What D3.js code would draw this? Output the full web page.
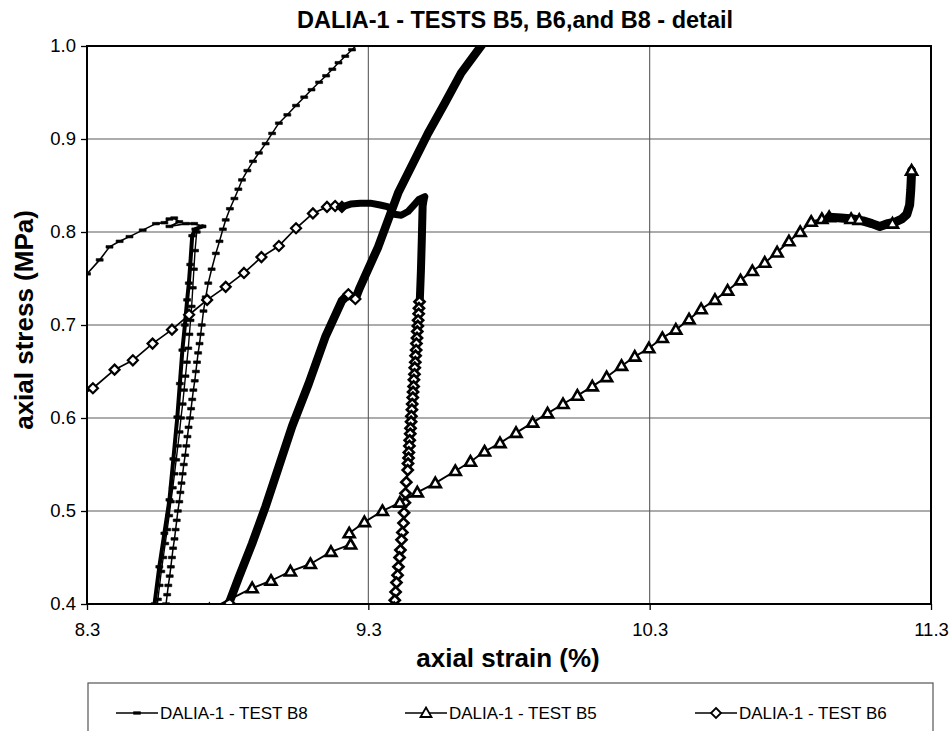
<!DOCTYPE html>
<html><head><meta charset="utf-8">
<script src="https://cdn.jsdelivr.net/npm/d3@7"></script>
<style>
body{margin:0;background:#fff}
svg{display:block}
text{font-family:"Liberation Sans",Arial,Helvetica,sans-serif;fill:#000}
</style></head>
<body><svg id="chart" width="950" height="731"></svg>
<script>
// ---------------- DATA ----------------
const chartTitle = "DALIA-1 - TESTS B5, B6,and B8 - detail";
const xTitle = "axial strain (%)";
const yTitle = "axial stress (MPa)";
const xTicks = [8.3, 9.3, 10.3, 11.3];
const yTicks = [0.4, 0.5, 0.6, 0.7, 0.8, 0.9, 1.0];
const seriesNames = ["DALIA-1 - TEST B8", "DALIA-1 - TEST B5", "DALIA-1 - TEST B6"];

// TEST B8 [strain %, stress MPa]
const b8Loading = [[8.300,0.755],[8.345,0.770],[8.380,0.784],[8.416,0.790],[8.451,0.795],[8.498,0.802],[8.545,0.809],[8.575,0.810],[8.593,0.814],[8.610,0.815],[8.628,0.811],[8.593,0.806],[8.652,0.809],[8.681,0.809],[8.710,0.806]];
const b8Unloading = [[8.710,0.806],[8.685,0.803],[8.674,0.796],[8.667,0.765],[8.662,0.745],[8.656,0.727],[8.648,0.700],[8.639,0.673],[8.630,0.637],[8.621,0.601],[8.607,0.556],[8.593,0.512],[8.575,0.476],[8.557,0.440],[8.540,0.400],[8.536,0.392]];
const b8Cycle = [[8.548,0.395],[8.552,0.405],[8.558,0.420],[8.564,0.435],[8.571,0.450],[8.578,0.465],[8.585,0.480],[8.592,0.495],[8.598,0.510],[8.605,0.525],[8.611,0.540],[8.617,0.555],[8.623,0.570],[8.629,0.585],[8.634,0.600],[8.640,0.615],[8.645,0.630],[8.650,0.645],[8.655,0.660],[8.660,0.675],[8.664,0.690],[8.668,0.705],[8.672,0.720],[8.676,0.740],[8.680,0.760],[8.684,0.780],[8.690,0.800]];
const b8Reloading = [[8.579,0.395],[8.581,0.400],[8.585,0.410],[8.589,0.420],[8.594,0.430],[8.598,0.440],[8.602,0.450],[8.606,0.460],[8.611,0.470],[8.615,0.480],[8.619,0.490],[8.623,0.500],[8.628,0.510],[8.632,0.520],[8.636,0.530],[8.640,0.540],[8.644,0.550],[8.649,0.560],[8.653,0.570],[8.657,0.580],[8.661,0.590],[8.666,0.600],[8.670,0.610],[8.674,0.620],[8.678,0.630],[8.683,0.640],[8.687,0.650],[8.691,0.660],[8.695,0.670],[8.700,0.680],[8.704,0.690],[8.708,0.700],[8.714,0.715],[8.722,0.730],[8.731,0.745],[8.743,0.760],[8.758,0.777],[8.771,0.790],[8.783,0.803],[8.793,0.813],[8.808,0.825],[8.824,0.836],[8.838,0.846],[8.851,0.856],[8.870,0.866],[8.890,0.876],[8.911,0.885],[8.935,0.895],[8.958,0.906],[8.982,0.917],[9.012,0.926],[9.043,0.936],[9.072,0.945],[9.098,0.953],[9.125,0.961],[9.150,0.968],[9.172,0.975],[9.194,0.982],[9.218,0.989],[9.242,0.996],[9.265,1.003]];

// TEST B5
const b5Curve = [[8.735,0.394],[8.887,0.417],[8.954,0.425],[9.023,0.435],[9.094,0.443],[9.167,0.456],[9.237,0.464],[9.232,0.476],[9.286,0.488],[9.350,0.500],[9.412,0.509],[9.474,0.520],[9.538,0.530],[9.609,0.543],[9.663,0.553],[9.713,0.564],[9.768,0.573],[9.825,0.584],[9.884,0.595],[9.937,0.605],[9.992,0.615],[10.043,0.624],[10.096,0.634],[10.147,0.644],[10.200,0.656],[10.247,0.666],[10.297,0.675],[10.345,0.686],[10.393,0.695],[10.440,0.706],[10.483,0.717],[10.532,0.727],[10.577,0.737],[10.623,0.748],[10.665,0.758],[10.709,0.767],[10.753,0.778],[10.795,0.790],[10.835,0.800],[10.874,0.811],[10.912,0.814],[10.938,0.816]];
const b5Plateau = [[10.938,0.816],[10.980,0.815],[11.023,0.814],[11.058,0.812],[11.090,0.809],[11.118,0.806],[11.147,0.809],[11.175,0.811],[11.196,0.814],[11.214,0.819],[11.224,0.829],[11.228,0.845],[11.230,0.858],[11.231,0.866]];
const b5PlateauMarks = [[11.016,0.814],[11.045,0.813],[11.163,0.809],[11.231,0.866]];

// TEST B6
const b6Loading = [[8.287,0.626],[8.321,0.632],[8.398,0.652],[8.463,0.662],[8.533,0.680],[8.602,0.695],[8.663,0.711],[8.727,0.727],[8.793,0.741],[8.858,0.756],[8.920,0.773],[8.982,0.785],[9.043,0.804],[9.103,0.820],[9.153,0.827],[9.182,0.828],[9.206,0.827]];
const b6Plateau = [[9.206,0.827],[9.237,0.830],[9.272,0.831],[9.307,0.831],[9.342,0.829],[9.371,0.827],[9.392,0.819],[9.417,0.818],[9.441,0.822],[9.462,0.829],[9.480,0.835],[9.501,0.838],[9.496,0.834]];
const b6UnloadingTop = [[9.496,0.834],[9.493,0.828],[9.490,0.791],[9.487,0.759],[9.483,0.727]];
const b6Unloading = [[9.482,0.725],[9.480,0.718],[9.479,0.712],[9.477,0.705],[9.476,0.699],[9.474,0.693],[9.473,0.686],[9.471,0.680],[9.470,0.673],[9.468,0.667],[9.467,0.660],[9.465,0.654],[9.464,0.647],[9.462,0.641],[9.461,0.634],[9.459,0.628],[9.458,0.622],[9.456,0.615],[9.455,0.609],[9.453,0.602],[9.452,0.596],[9.450,0.589],[9.449,0.583],[9.447,0.576],[9.446,0.570],[9.444,0.563],[9.443,0.557],[9.441,0.551],[9.440,0.544],[9.435,0.531],[9.432,0.519],[9.430,0.509],[9.427,0.498],[9.425,0.487],[9.421,0.477],[9.418,0.469],[9.414,0.458],[9.411,0.450],[9.407,0.440],[9.404,0.431],[9.400,0.423],[9.397,0.413],[9.394,0.404],[9.392,0.396]];
const b6Reloading = [[8.805,0.401],[8.840,0.429],[8.887,0.465],[8.935,0.505],[8.982,0.548],[9.029,0.591],[9.088,0.637],[9.147,0.687],[9.206,0.726],[9.229,0.733],[9.254,0.728],[9.268,0.739],[9.335,0.784],[9.406,0.842],[9.512,0.906],[9.571,0.938],[9.630,0.971],[9.713,1.005]];
const b6ReloadingMarks = [[8.805,0.401],[9.229,0.733],[9.254,0.728]];

// ---------------- CHART ----------------
const svg = d3.select("#chart");
const M = {l:87, r:931, t:46, b:604};
const x = d3.scaleLinear().domain([8.3, 11.3]).range([M.l, M.r]);
const y = d3.scaleLinear().domain([0.4, 1.0]).range([M.b, M.t]);

svg.append("rect").attr("width",950).attr("height",731).attr("fill","#fff");

svg.append("defs").append("clipPath").attr("id","plotclip")
  .append("rect").attr("x",M.l).attr("y",M.t).attr("width",M.r-M.l).attr("height",M.b-M.t);

// gridlines
const grid = svg.append("g");
grid.selectAll(".hg").data(yTicks.slice(1,-1)).join("line")
  .attr("x1",M.l).attr("x2",M.r).attr("y1",d=>y(d)).attr("y2",d=>y(d))
  .attr("stroke","#5a5a5a").attr("stroke-width",1.1);
grid.selectAll(".vg").data(xTicks.slice(1,-1)).join("line")
  .attr("y1",M.t).attr("y2",M.b).attr("x1",d=>x(d)).attr("x2",d=>x(d))
  .attr("stroke","#5a5a5a").attr("stroke-width",1.1);

// axes
const yAxis = svg.append("g").attr("transform",`translate(${M.l},0)`)
  .call(d3.axisLeft(y).tickValues(yTicks).tickFormat(d3.format(".1f")).tickSize(6).tickPadding(5));
const xAxis = svg.append("g").attr("transform",`translate(0,${M.b})`)
  .call(d3.axisBottom(x).tickValues(xTicks).tickFormat(d3.format(".1f")).tickSize(6).tickPadding(13));
[yAxis,xAxis].forEach(a=>{
  a.select(".domain").remove();
  a.selectAll(".tick line").attr("stroke","#000").attr("stroke-width",1.3);
  a.selectAll(".tick text").style("font-family",'"Liberation Sans",Arial,sans-serif').style("font-size","18.5px").attr("fill","#000");
});

// frame
svg.append("rect").attr("x",M.l).attr("y",M.t).attr("width",M.r-M.l).attr("height",M.b-M.t)
  .attr("fill","none").attr("stroke","#000").attr("stroke-width",2);

// series drawing
const plot = svg.append("g").attr("clip-path","url(#plotclip)");
const line = d3.line().x(d=>x(d[0])).y(d=>y(d[1]));

function markerPath(type){
  if(type==="tri") return "M0,-5.5L5.5,4L-5.5,4Z";
  if(type==="dia") return "M0,-5L5,0L0,5L-5,0Z";
  return "M-3.5,-1.3L3.5,-1.3L3.5,1.3L-3.5,1.3Z";
}
function drawLine(data, width){
  plot.append("path").datum(data).attr("d",line).attr("fill","none")
    .attr("stroke","#000").attr("stroke-width",width)
    .attr("stroke-linejoin","round").attr("stroke-linecap","round");
}
function drawMarks(data, type, sw){
  plot.append("g").selectAll("path").data(data).join("path")
    .attr("transform",d=>`translate(${x(d[0])},${y(d[1])})`)
    .attr("d",markerPath(type))
    .attr("fill", type==="dash" ? "#000" : "#fff")
    .attr("stroke","#000")
    .attr("stroke-width", sw !== undefined ? sw : (type==="dash" ? 0.6 : (type==="tri"?2.6:2.2)));
}

// B8
drawLine(b8Loading,1.6); drawMarks(b8Loading,"dash");
drawLine(b8Unloading,4); drawMarks(b8Unloading,"dash");
drawLine(b8Cycle,1.4); drawMarks(b8Cycle,"dash");
drawLine(b8Reloading,1.5); drawMarks(b8Reloading,"dash");
// B6
drawLine(b6Loading,1.7); drawMarks(b6Loading.slice(1),"dia");
drawLine(b6Plateau,7);
drawLine(b6UnloadingTop,8);
drawLine(b6Unloading,2); drawMarks(b6Unloading,"dia",2.7);
drawLine(b6Reloading,8.5); drawMarks(b6ReloadingMarks,"dia");
// B5
drawLine(b5Curve,1.9); drawMarks(b5Curve,"tri");
drawLine(b5Plateau,9); drawMarks(b5PlateauMarks,"tri");

// titles
svg.append("text").attr("x",515).attr("y",28).attr("text-anchor","middle")
  .style("font-size","23.5px").style("font-weight","bold").text(chartTitle);
svg.append("text").attr("x",508).attr("y",667).attr("text-anchor","middle")
  .style("font-size","26px").style("font-weight","bold").text(xTitle);
svg.append("text").attr("transform",`translate(33,320) rotate(-90)`).attr("text-anchor","middle")
  .style("font-size","26px").style("font-weight","bold").text(yTitle);

// legend
const lg = svg.append("g");
lg.append("rect").attr("x",88).attr("y",683).attr("width",845).attr("height",70)
  .attr("fill","#fff").attr("stroke","#555").attr("stroke-width",1.2);
const legendX = [116, 405, 695];
const legendType = ["dash","tri","dia"];
seriesNames.forEach((name,i)=>{
  const lx = legendX[i], ly = 713;
  lg.append("line").attr("x1",lx).attr("x2",lx+42).attr("y1",ly).attr("y2",ly).attr("stroke","#000").attr("stroke-width",1.6);
  lg.append("path").attr("transform",`translate(${lx+21},${ly})`).attr("d",markerPath(legendType[i]))
    .attr("fill",legendType[i]==="dash"?"#000":"#fff").attr("stroke","#000")
    .attr("stroke-width",legendType[i]==="dash"?0.6:1.8);
  lg.append("text").attr("x",lx+44).attr("y",ly+6).style("font-size","17px").text(name);
});
</script></body></html>
